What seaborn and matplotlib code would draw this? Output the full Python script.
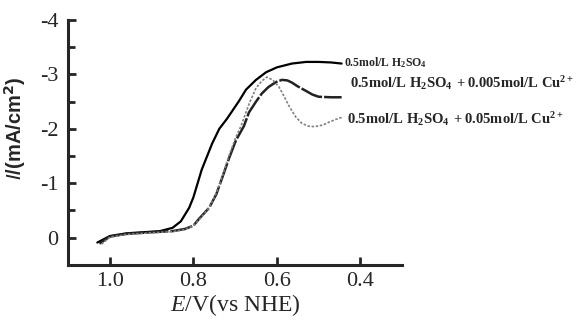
import pandas as pd
import matplotlib
matplotlib.use("Agg")
import matplotlib.pyplot as plt
import seaborn as sns

# curve data (E in V vs NHE, I in mA/cm2)
E_h2so4 = [1.03, 1.0, 0.96, 0.92, 0.88, 0.85, 0.83, 0.81, 0.80, 0.78, 0.755, 0.738,
           0.72, 0.69, 0.674, 0.65, 0.626, 0.60, 0.564, 0.53, 0.50, 0.47, 0.445]
I_h2so4 = [0.09, -0.03, -0.08, -0.10, -0.12, -0.18, -0.30, -0.55, -0.74, -1.25, -1.73, -2.0,
           -2.18, -2.52, -2.72, -2.9, -3.04, -3.13, -3.2, -3.23, -3.23, -3.22, -3.2]

E_cu005 = [1.025, 1.0, 0.96, 0.90, 0.85, 0.82, 0.80, 0.786, 0.762, 0.745, 0.731, 0.715, 0.698,
           0.679, 0.667, 0.65, 0.636, 0.62, 0.602, 0.588, 0.575, 0.564, 0.55, 0.531, 0.515,
           0.50, 0.47, 0.445]
I_cu005 = [0.11, -0.02, -0.07, -0.10, -0.12, -0.16, -0.22, -0.35, -0.55, -0.8, -1.1, -1.45, -1.79,
           -2.05, -2.3, -2.5, -2.65, -2.77, -2.86, -2.9, -2.89, -2.85, -2.78, -2.7, -2.63,
           -2.59, -2.58, -2.58]

E_cu05 = [1.02, 1.0, 0.96, 0.90, 0.85, 0.82, 0.80, 0.786, 0.762, 0.745, 0.731, 0.715, 0.698,
          0.686, 0.667, 0.65, 0.636, 0.624, 0.61, 0.595, 0.583, 0.571, 0.555, 0.54, 0.525,
          0.51, 0.49, 0.476, 0.46, 0.445]
I_cu05 = [0.12, -0.01, -0.06, -0.09, -0.11, -0.15, -0.22, -0.33, -0.55, -0.82, -1.12, -1.5, -1.85,
          -2.05, -2.45, -2.75, -2.88, -2.95, -2.9, -2.77, -2.6, -2.42, -2.22, -2.1, -2.05,
          -2.04, -2.07, -2.12, -2.17, -2.21]

labels = [r"$\mathbf{0.5mol/L\ H_2SO_4}$",
          r"$\mathbf{0.5mol/L\ H_2SO_4\ +0.005mol/L\ Cu^{2+}}$",
          r"$\mathbf{0.5mol/L\ H_2SO_4\ +0.05mol/L\ Cu^{2+}}$"]
x_ticks = [1.0, 0.8, 0.6, 0.4]
y_ticks = [-4, -3, -2, -1, 0]

sns.set_style("ticks")
plt.rcParams['font.family'] = ['Liberation Serif', 'DejaVu Serif']
plt.rcParams['mathtext.fontset'] = 'custom'
plt.rcParams['mathtext.rm'] = 'Liberation Serif'
plt.rcParams['mathtext.it'] = 'Liberation Serif:italic'
plt.rcParams['mathtext.bf'] = 'Liberation Serif:bold'
plt.rcParams['axes.unicode_minus'] = False

fig = plt.figure(figsize=(5.77, 3.23), dpi=100)
ax = fig.add_axes([0.118, 0.180, 0.579, 0.758])

df_a = pd.DataFrame({'E': E_h2so4, 'I': I_h2so4})
df_b = pd.DataFrame({'E': E_cu005, 'I': I_cu005})
df_c = pd.DataFrame({'E': E_cu05, 'I': I_cu05})

sns.lineplot(data=df_a, x='E', y='I', sort=False, ax=ax, color='black', lw=1.6)
sns.lineplot(data=df_b, x='E', y='I', sort=False, ax=ax, color='#222222', lw=1.8,
             linestyle=(0, (9, 0.8)))
sns.lineplot(data=df_c, x='E', y='I', sort=False, ax=ax, color='#808080', lw=1.2,
             linestyle=(0, (1.5, 1)))

ax.set_xlim(1.1, 0.3)
ax.set_ylim(0.5, -4)
ax.set_xticks(x_ticks)
ax.set_xticklabels([f"{v:.1f}" for v in x_ticks])
ax.set_yticks(y_ticks)
ax.set_yticks([-3.5, -2.5, -1.5, -0.5], minor=True)
ax.tick_params(which='both', direction='in', width=2, labelsize=16)
ax.tick_params(which='major', length=6)
ax.tick_params(which='minor', length=5)
ax.tick_params(axis='y', pad=7)
ax.tick_params(axis='x', pad=5)

sns.despine(ax=ax)
for s in ['left', 'bottom']:
    ax.spines[s].set_linewidth(2.2)

ax.set_xlabel(r"$\mathit{E}$/V(vs NHE)", fontsize=17, labelpad=1)
ax.set_ylabel(r"$\mathit{I}$/(mA/cm$^\mathbf{2}$)", fontsize=14.5,
              family='Liberation Sans', fontweight='bold',
              math_fontfamily='dejavusans')
ax.yaxis.set_label_coords(-0.12, 0.56)

ax.text(0.44, -3.21, labels[0], fontsize=8.5, va='center', ha='left', clip_on=False)
ax.text(0.424, -2.85, labels[1], fontsize=10.5, va='center', ha='left', clip_on=False)
ax.text(0.433, -2.19, labels[2], fontsize=10.5, va='center', ha='left', clip_on=False)

fig.savefig("out.png", dpi=100)
